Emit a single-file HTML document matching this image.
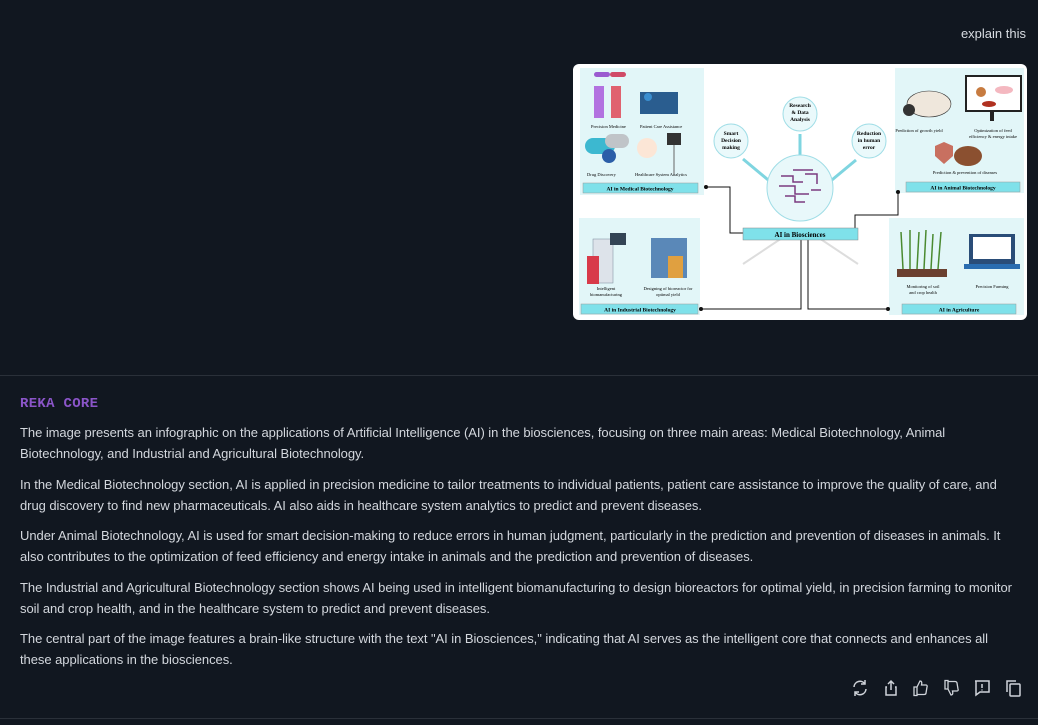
<!DOCTYPE html>
<html><head><meta charset="utf-8"><style>
*{margin:0;padding:0;box-sizing:border-box}
body{width:1038px;height:725px;background:#111720;font-family:"Liberation Sans",sans-serif;color:#d3d7dd;position:relative;overflow:hidden}
.q{position:absolute;right:12px;top:26px;font-size:13px;color:#d8dce2}
.img{position:absolute;left:573px;top:64px;width:454px;height:256px;background:#fff;border-radius:6px;overflow:hidden}
.resp{position:absolute;left:0;top:375px;width:1038px;height:344px;border-top:1px solid #2a3039;border-bottom:1px solid #2a3039}
.name{position:absolute;left:20px;top:20px;font-family:"Liberation Mono",monospace;font-weight:bold;font-size:14px;color:#8b55c9;letter-spacing:0.3px}
.txt{position:absolute;left:20px;top:46px;width:1010px;font-size:13px;line-height:21px;white-space:nowrap;letter-spacing:-0.05px}
.txt p{margin-bottom:9.5px}
.icons{position:absolute;top:302px;left:850px;display:flex;gap:10.5px}
.icons svg{width:20px;height:20px}
</style></head><body>
<div class="q">explain this</div>
<div class="img">
<svg width="454" height="256" viewBox="0 0 454 256" font-family="Liberation Serif" font-size="5">
<rect x="7" y="4" width="124" height="127" fill="#e2f6f8"/>
<rect x="6" y="154" width="121" height="97" fill="#e2f6f8"/>
<rect x="322" y="4" width="129" height="125" fill="#e2f6f8"/>
<rect x="316" y="154" width="135" height="97" fill="#e2f6f8"/>
<rect x="21" y="8" width="16" height="5" rx="2.5" fill="#9b5bd0"/><rect x="37" y="8" width="16" height="5" rx="2.5" fill="#d04a66"/>
<rect x="21" y="22" width="10" height="32" fill="#b272e0"/><rect x="38" y="22" width="10" height="32" fill="#e0626f"/>
<rect x="67" y="28" width="38" height="22" fill="#2a5d8f"/><circle cx="75" cy="33" r="4" fill="#3b8fd0"/>
<rect x="12" y="74" width="30" height="16" rx="8" fill="#3cb8d0"/><rect x="32" y="70" width="24" height="14" rx="7" fill="#c0c4c8"/>
<circle cx="36" cy="92" r="7" fill="#2b5ea8"/>
<circle cx="74" cy="84" r="10" fill="#fce6d6"/><rect x="94" y="69" width="14" height="12" fill="#333"/><line x1="101" y1="81" x2="101" y2="110" stroke="#666"/>
<text x="18" y="64" font-size="4.5">Precision Medicine</text><text x="67" y="64" font-size="4.5">Patient Care Assistance</text>
<text x="14" y="112" font-size="4.5">Drug Discovery</text><text x="62" y="112" font-size="4.5">Healthcare System Analytics</text>
<rect x="10" y="119" width="115" height="10" fill="#7fe1ea" stroke="#999" stroke-width=".5"/>
<text x="67" y="126.5" text-anchor="middle" font-weight="bold" font-size="5.5">AI in Medical Biotechnology</text>
<rect x="20" y="175" width="20" height="44" fill="#dde3ea" stroke="#789" stroke-width=".5"/><rect x="14" y="192" width="12" height="28" fill="#d83a4a"/>
<rect x="37" y="169" width="16" height="12" fill="#345"/>
<rect x="78" y="174" width="36" height="40" fill="#5a88b8"/><rect x="95" y="192" width="15" height="22" fill="#e0a040"/>
<text x="33" y="226" text-anchor="middle" font-size="4.5">Intelligent</text><text x="33" y="232" text-anchor="middle" font-size="4.5">biomanufacturing</text>
<text x="95" y="226" text-anchor="middle" font-size="4.5">Designing of bioreactor for</text><text x="95" y="232" text-anchor="middle" font-size="4.5">optimal yield</text>
<rect x="8" y="240" width="117" height="10" fill="#7fe1ea" stroke="#999" stroke-width=".5"/>
<text x="67" y="247.5" text-anchor="middle" font-weight="bold" font-size="5.5">AI in Industrial Biotechnology</text>
<ellipse cx="356" cy="40" rx="22" ry="13" fill="#efe7dc" stroke="#333" stroke-width=".6"/><circle cx="336" cy="46" r="6" fill="#333"/>
<rect x="393" y="12" width="55" height="35" fill="#fff" stroke="#222" stroke-width="2"/><rect x="417" y="47" width="4" height="10" fill="#222"/>
<circle cx="408" cy="28" r="5" fill="#c77b40"/><ellipse cx="431" cy="26" rx="9" ry="4" fill="#f4b8c0"/><ellipse cx="416" cy="40" rx="7" ry="3" fill="#b03020"/>
<path d="M362 82 l9 -4 9 4 v10 l-9 8 -9 -8z" fill="#c87060"/><ellipse cx="395" cy="92" rx="14" ry="10" fill="#8b5030"/>
<text x="346" y="68" text-anchor="middle" font-size="4.5">Prediction of growth yield</text>
<text x="420" y="68" text-anchor="middle" font-size="4.5">Optimization of feed</text><text x="420" y="74" text-anchor="middle" font-size="4.5">efficiency &amp; energy intake</text>
<text x="392" y="110" text-anchor="middle" font-size="4.5">Prediction &amp; prevention of diseases</text>
<rect x="333" y="118" width="114" height="10" fill="#7fe1ea" stroke="#999" stroke-width=".5"/>
<text x="390" y="125.5" text-anchor="middle" font-weight="bold" font-size="5.5">AI in Animal Biotechnology</text>
<g stroke="#4a8a30" stroke-width="1.5"><line x1="330" y1="205" x2="328" y2="168"/><line x1="337" y1="205" x2="337" y2="166"/><line x1="344" y1="205" x2="346" y2="168"/><line x1="351" y1="205" x2="353" y2="166"/><line x1="358" y1="205" x2="360" y2="170"/><line x1="365" y1="205" x2="368" y2="168"/></g>
<rect x="324" y="205" width="50" height="8" fill="#6a4030"/>
<rect x="396" y="170" width="46" height="30" fill="#2a4d78"/><rect x="400" y="173" width="38" height="22" fill="#fff"/><rect x="391" y="200" width="56" height="5" fill="#2a6db0"/>
<text x="350" y="224" text-anchor="middle" font-size="4.5">Monitoring of soil</text><text x="350" y="230" text-anchor="middle" font-size="4.5">and crop health</text>
<text x="419" y="224" text-anchor="middle" font-size="4.5">Precision Farming</text>
<rect x="329" y="240" width="114" height="10" fill="#7fe1ea" stroke="#999" stroke-width=".5"/>
<text x="386" y="247.5" text-anchor="middle" font-weight="bold" font-size="5.5">AI in Agriculture</text>
<g stroke="#7fd5e0" stroke-width="3"><line x1="227" y1="125" x2="227" y2="70"/><line x1="212" y1="130" x2="170" y2="95"/><line x1="242" y1="130" x2="283" y2="96"/></g>
<g stroke="#ddd" stroke-width="2"><line x1="215" y1="170" x2="170" y2="200"/><line x1="240" y1="170" x2="285" y2="200"/></g>
<circle cx="227" cy="124" r="33" fill="#e8f8fa" stroke="#9fdde6" stroke-width="1"/>
<g stroke="#7a3a80" stroke-width="1.5" fill="none"><path d="M208 112 h12 v6 h10"/><path d="M206 122 h16 v8 h14"/><path d="M212 132 h10 v6 h10"/><path d="M232 110 h12 v10"/><path d="M238 126 h10"/><path d="M220 106 h20"/></g>
<circle cx="227" cy="50" r="17" fill="#eaf9fb" stroke="#9fdde6"/>
<text x="227" y="43" text-anchor="middle" font-weight="bold" font-size="5.5">Research</text><text x="227" y="50" text-anchor="middle" font-weight="bold" font-size="5.5">&amp; Data</text><text x="227" y="57" text-anchor="middle" font-weight="bold" font-size="5.5">Analysis</text>
<circle cx="158" cy="77" r="17" fill="#eaf9fb" stroke="#9fdde6"/>
<text x="158" y="71" text-anchor="middle" font-weight="bold" font-size="5.5">Smart</text><text x="158" y="78" text-anchor="middle" font-weight="bold" font-size="5.5">Decision</text><text x="158" y="85" text-anchor="middle" font-weight="bold" font-size="5.5">making</text>
<circle cx="296" cy="77" r="17" fill="#eaf9fb" stroke="#9fdde6"/>
<text x="296" y="71" text-anchor="middle" font-weight="bold" font-size="5.5">Reduction</text><text x="296" y="78" text-anchor="middle" font-weight="bold" font-size="5.5">in human</text><text x="296" y="85" text-anchor="middle" font-weight="bold" font-size="5.5">error</text>
<g stroke="#111" stroke-width="1" fill="none">
<path d="M133 123 h24 v46 h13"/><path d="M282 164 v-13 h43 v-22"/>
<path d="M228 176 v69 h-100"/><path d="M235 176 v69 h80"/></g>
<g fill="#111"><circle cx="133" cy="123" r="2"/><circle cx="325" cy="128" r="2"/><circle cx="128" cy="245" r="2"/><circle cx="315" cy="245" r="2"/></g>
<rect x="170" y="164" width="115" height="12" fill="#7fe1ea" stroke="#888" stroke-width=".5"/>
<text x="227" y="173" text-anchor="middle" font-weight="bold" font-size="7">AI in Biosciences</text>
</svg>
</div>
<div class="resp">
<div class="name">REKA CORE</div>
<div class="txt">
<p>The image presents an infographic on the applications of Artificial Intelligence (AI) in the biosciences, focusing on three main areas: Medical Biotechnology, Animal<br>Biotechnology, and Industrial and Agricultural Biotechnology.</p>
<p>In the Medical Biotechnology section, AI is applied in precision medicine to tailor treatments to individual patients, patient care assistance to improve the quality of care, and<br>drug discovery to find new pharmaceuticals. AI also aids in healthcare system analytics to predict and prevent diseases.</p>
<p>Under Animal Biotechnology, AI is used for smart decision-making to reduce errors in human judgment, particularly in the prediction and prevention of diseases in animals. It<br>also contributes to the optimization of feed efficiency and energy intake in animals and the prediction and prevention of diseases.</p>
<p>The Industrial and Agricultural Biotechnology section shows AI being used in intelligent biomanufacturing to design bioreactors for optimal yield, in precision farming to monitor<br>soil and crop health, and in the healthcare system to predict and prevent diseases.</p>
<p>The central part of the image features a brain-like structure with the text "AI in Biosciences," indicating that AI serves as the intelligent core that connects and enhances all<br>these applications in the biosciences.</p>
</div>
<div class="icons">
<svg viewBox="0 0 20 20" fill="none" stroke="#d0d4da" stroke-width="1.5"><path d="M4 9a6 6 0 0 1 11-3M16 11a6 6 0 0 1-11 3"/><path d="M15 2v4h-4M5 18v-4h4"/></svg>
<svg viewBox="0 0 20 20" fill="none" stroke="#d0d4da" stroke-width="1.5"><path d="M10 3v9M7 6l3-3 3 3M6 9H5v8h10V9h-1"/></svg>
<svg viewBox="0 0 20 20" fill="none" stroke="#d0d4da" stroke-width="1.3"><path d="M6 9l3-6c2 0 2 2 1.5 4H15c1 0 1.5 1 1 2l-1 6c0 1-1 1.5-2 1.5H6z M3 9h3v8.5H3z"/></svg>
<svg viewBox="0 0 20 20" fill="none" stroke="#d0d4da" stroke-width="1.3"><path d="M6 11l3 6c2 0 2-2 1.5-4H15c1 0 1.5-1 1-2l-1-6c0-1-1-1.5-2-1.5H6z M3 11h3V2.5H3z"/></svg>
<svg viewBox="0 0 20 20" fill="none" stroke="#d0d4da" stroke-width="1.5"><path d="M3 3h14v11H8l-4 3V3z"/><path d="M10 6v4M10 11.5v1"/></svg>
<svg viewBox="0 0 20 20" fill="none" stroke="#d0d4da" stroke-width="1.5"><rect x="7" y="6" width="10" height="12" rx="1"/><path d="M4 14V3h9"/></svg>
</div>
</div>
</body></html>
